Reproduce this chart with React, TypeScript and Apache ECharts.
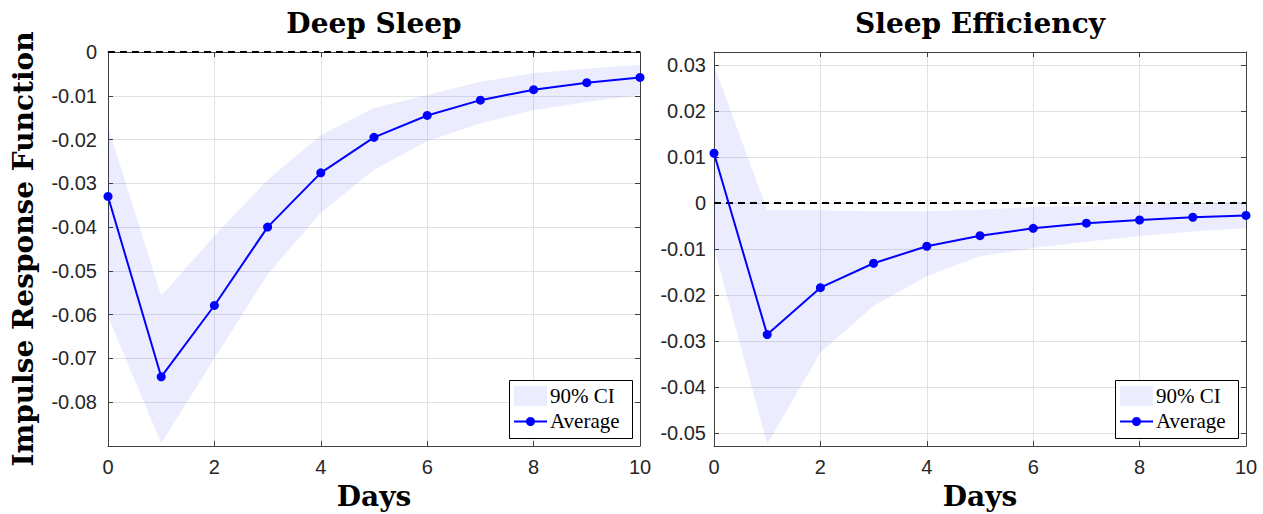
import React, { useEffect, useRef } from "react";
import * as echarts from "echarts";

// Horizon (days after the shock)
const days = [0, 1, 2, 3, 4, 5, 6, 7, 8, 9, 10];

// Deep Sleep: average impulse response and 90% confidence band
const deepAvg = [-0.033, -0.0742, -0.0579, -0.04, -0.0276, -0.0195, -0.0145, -0.011, -0.0086, -0.007, -0.0058];
const deepUpper = [-0.017, -0.0557, -0.042, -0.0292, -0.019, -0.0128, -0.0098, -0.0068, -0.0048, -0.0038, -0.0029];
const deepLower = [-0.0605, -0.0894, -0.07, -0.0508, -0.0367, -0.0269, -0.0204, -0.0163, -0.0133, -0.0114, -0.0098];

// Sleep Efficiency: average impulse response and 90% confidence band
const effAvg = [0.0108, -0.0286, -0.0184, -0.0131, -0.0094, -0.0071, -0.0055, -0.0044, -0.0037, -0.0031, -0.0027];
const effUpper = [0.0299, -0.0015, -0.0016, -0.0018, -0.0018, -0.0014, -0.0009, -0.0006, -0.0003, -0.0001, 0.0004];
const effLower = [-0.0098, -0.0524, -0.0325, -0.0224, -0.0159, -0.0116, -0.0098, -0.0084, -0.0072, -0.0062, -0.0055];

const panelTitles = ["Deep Sleep", "Sleep Efficiency"];
const xAxisTitle = "Days";
const yAxisTitle = "Impulse Response Function";
const legendLabels = ["90% CI", "Average"];

// Layout
const W = 1263;
const H = 514;
const GRID_TOP = 52;
const GRID_H = 394;
const GRID_W = 532;
const GRID_LEFTS = [108, 714];

// Colours
const BLUE = "#0000ff";
const BAND = "rgba(0,0,255,0.075)";
const INK = "#262626";
const FRAME = "#404040";
const GRIDLINE = "#e2e2e2";

const TICK_FONT = { fontFamily: "Liberation Sans", fontSize: 20, color: INK };
const HEAD_FONT = { fontFamily: "DejaVu Serif", fontWeight: "bold" as const, fontSize: 28, fill: "#000" };
const LEGEND_FONT = { fontFamily: "Liberation Serif", fontSize: 21, fill: "#000" };

const pairs = (xs: number[], ys: number[]) => xs.map((x, i) => [x, ys[i]]);

const yRanges = [
  { min: -0.09, max: 0, interval: 0.01 },
  { min: -0.0528, max: 0.0328, splitNumber: 8 },
];
const yLabelMargins = [11, 8];

function buildAxes() {
  const xAxis: any[] = [];
  const yAxis: any[] = [];
  for (let g = 0; g < 2; g++) {
    const line = { onZero: false, lineStyle: { color: FRAME, width: 1 } };
    const tick = { inside: true, length: 5, lineStyle: { color: FRAME } };
    xAxis.push({
      gridIndex: g,
      type: "value",
      position: "bottom",
      min: 0,
      max: 10,
      interval: 2,
      axisLine: line,
      axisTick: tick,
      axisLabel: { ...TICK_FONT, margin: 11 },
      splitLine: { show: true, lineStyle: { color: GRIDLINE, width: 1 } },
    });
    xAxis.push({
      gridIndex: g,
      type: "value",
      position: "top",
      min: 0,
      max: 10,
      interval: 2,
      axisLine: line,
      axisTick: tick,
      axisLabel: { show: false },
      splitLine: { show: false },
    });
    yAxis.push({
      gridIndex: g,
      type: "value",
      position: "left",
      ...yRanges[g],
      axisLine: line,
      axisTick: tick,
      axisLabel: { ...TICK_FONT, margin: yLabelMargins[g], showMinLabel: false, showMaxLabel: g === 0 },
      splitLine: { show: true, lineStyle: { color: GRIDLINE, width: 1 } },
    });
    yAxis.push({
      gridIndex: g,
      type: "value",
      position: "right",
      ...yRanges[g],
      axisLine: line,
      axisTick: tick,
      axisLabel: { show: false },
      splitLine: { show: false },
    });
  }
  return { xAxis, yAxis };
}

function panelSeries(g: number, avg: number[], lo: number[], hi: number[]) {
  const axes = { xAxisIndex: g * 2, yAxisIndex: g * 2 };
  return [
    {
      // Confidence band: one polygon through the upper bounds and back along the lower bounds
      name: legendLabels[0],
      type: "custom",
      ...axes,
      data: days.map((d, i) => [d, lo[i], hi[i]]),
      encode: { x: 0, y: [1, 2] },
      silent: true,
      z: 1,
      renderItem: (params: any, api: any) => {
        if (params.dataIndex !== 0) return { type: "group", children: [] };
        const upper = days.map((d, i) => api.coord([d, hi[i]]));
        const lower = days.map((d, i) => api.coord([d, lo[i]])).reverse();
        return {
          type: "polygon",
          shape: { points: [...upper, ...lower] },
          style: { fill: BAND, stroke: "none" },
        };
      },
    },
    {
      name: legendLabels[1],
      type: "line",
      ...axes,
      data: pairs(days, avg),
      symbol: "circle",
      symbolSize: 9,
      itemStyle: { color: BLUE },
      lineStyle: { color: BLUE, width: 2 },
      silent: true,
      z: 3,
      markLine: {
        silent: true,
        symbol: "none",
        label: { show: false },
        lineStyle: { color: "#000", type: [7, 5], width: 2 },
        data: [{ yAxis: 0 }],
        z: 2,
      },
    },
  ];
}

function legendBox(gridLeft: number) {
  const boxW = 123;
  const boxH = 58;
  const bx = gridLeft + GRID_W - 8 - boxW;
  const by = GRID_TOP + GRID_H - 8 - boxH;
  const z = 50;
  return [
    { type: "rect", z, shape: { x: bx + 0.5, y: by + 0.5, width: boxW, height: boxH }, style: { fill: "#fff", stroke: "#000", lineWidth: 1 } },
    { type: "rect", z, shape: { x: bx + 5, y: by + 6, width: 33, height: 20 }, style: { fill: BAND } },
    { type: "text", z, x: bx + 41, y: by + 16, style: { text: legendLabels[0], ...LEGEND_FONT, align: "left", verticalAlign: "middle" } },
    { type: "line", z, shape: { x1: bx + 5, y1: by + 41.5, x2: bx + 38, y2: by + 41.5 }, style: { stroke: BLUE, lineWidth: 2 } },
    { type: "circle", z, shape: { cx: bx + 21.5, cy: by + 41.5, r: 4.5 }, style: { fill: BLUE } },
    { type: "text", z, x: bx + 41, y: by + 41, style: { text: legendLabels[1], ...LEGEND_FONT, align: "left", verticalAlign: "middle" } },
  ];
}

function headings() {
  const els: any[] = [];
  GRID_LEFTS.forEach((left, g) => {
    const cx = left + GRID_W / 2;
    els.push({ type: "text", z: 50, x: cx, y: 23, style: { text: panelTitles[g], ...HEAD_FONT, align: "center", verticalAlign: "middle" } });
    els.push({ type: "text", z: 50, x: cx, y: 496, style: { text: xAxisTitle, ...HEAD_FONT, align: "center", verticalAlign: "middle" } });
  });
  els.push({
    type: "text",
    z: 50,
    x: 23,
    y: GRID_TOP + GRID_H / 2,
    rotation: Math.PI / 2,
    style: { text: yAxisTitle, ...HEAD_FONT, fontSize: 28, align: "center", verticalAlign: "middle" },
  });
  return els;
}

export default function App() {
  const ref = useRef<HTMLDivElement>(null);

  useEffect(() => {
    if (!ref.current) return;
    const chart = echarts.init(ref.current, undefined, { renderer: "svg" });
    const { xAxis, yAxis } = buildAxes();
    chart.setOption({
      animation: false,
      backgroundColor: "#fff",
      grid: GRID_LEFTS.map((left) => ({ left, top: GRID_TOP, width: GRID_W, height: GRID_H })),
      xAxis,
      yAxis,
      series: [
        ...panelSeries(0, deepAvg, deepLower, deepUpper),
        ...panelSeries(1, effAvg, effLower, effUpper),
      ],
      graphic: [...headings(), ...legendBox(GRID_LEFTS[0]), ...legendBox(GRID_LEFTS[1])],
    });
    return () => chart.dispose();
  }, []);

  return <div ref={ref} style={{ position: "absolute", left: 0, top: 0, width: W, height: H }} />;
}
